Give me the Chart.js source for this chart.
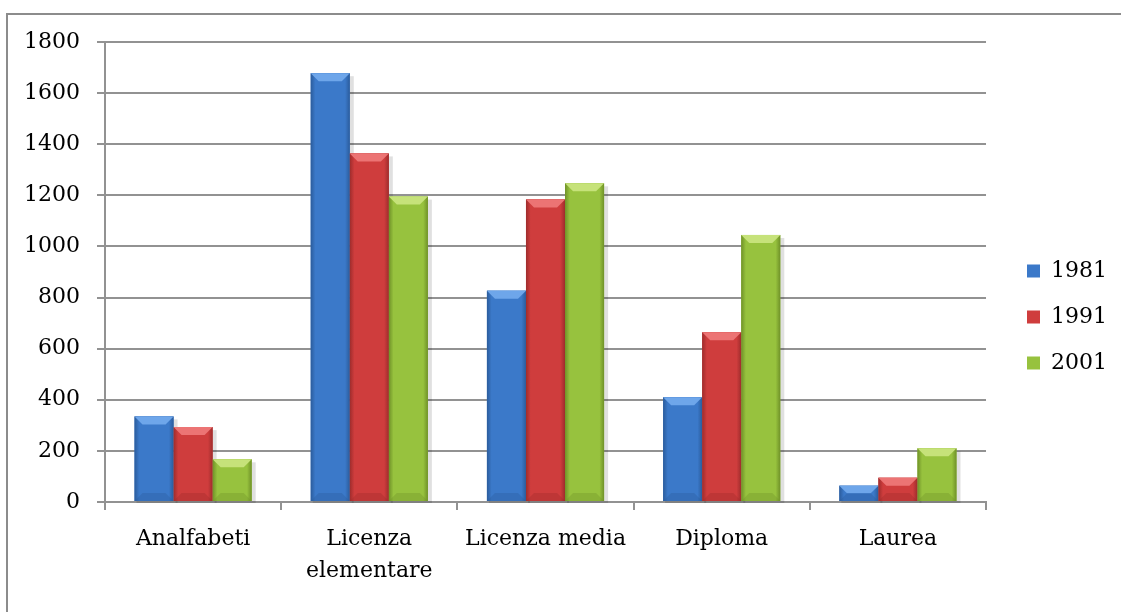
<!DOCTYPE html>
<html>
<head>
<meta charset="utf-8">
<script src="https://cdn.jsdelivr.net/npm/chart.js@4.4.1/dist/chart.umd.min.js"></script>
<style>
    html, body { margin: 0; padding: 0; background: #fff; overflow: hidden; }
    #frame {
        position: absolute; left: 6px; top: 13px;
        width: 1300px; height: 800px;
        border: 2px solid #8c8c8c;
    }
    #wrap { position: absolute; left: 0; top: 0; width: 1121px; height: 612px; }
</style>
</head>
<body>
<div id="frame"></div>
<div id="wrap"><canvas id="istruzione"></canvas></div>
<script>
const categorie = ["Analfabeti", ["Licenza", "elementare"], "Licenza media", "Diploma", "Laurea"];
const anni = ["1981", "1991", "2001"];
const valori1981 = [335, 1678, 827, 410, 64];
const valori1991 = [293, 1364, 1184, 664, 95];
const valori2001 = [167, 1195, 1247, 1045, 210];
const tickY = [0, 200, 400, 600, 800, 1000, 1200, 1400, 1600, 1800];

// colore pieno, bordo luminoso, bordo scuro
const colori = [
    { base: "#3b79c9", luce: "#6ea6ea", ombra: "#2b5c9c" },
    { base: "#cf3d3d", luce: "#ec7474", ombra: "#9e2c2c" },
    { base: "#97c23e", luce: "#c6e27a", ombra: "#6f9128" },
];

const gridColor = "#929292";
const font = { family: "'DejaVu Serif', serif", size: 22, lineHeight: 1.45 };

// smussatura 3D sopra le barre
const bevelPlugin = {
    id: "bevel",
    afterDatasetsDraw(chart) {
        const ctx = chart.ctx;
        chart.data.datasets.forEach((ds, i) => {
            const c = colori[i];
            chart.getDatasetMeta(i).data.forEach((bar) => {
                const { x, y, base, width } = bar.getProps(["x", "y", "base", "width"], true);
                const l = x - width / 2, r = x + width / 2;
                const t = y, b = base;
                const h = b - t;
                const s = Math.min(8, h / 2, width / 4);
                ctx.save();
                // faccia con sfumatura orizzontale
                const g = ctx.createLinearGradient(l, 0, r, 0);
                g.addColorStop(0, c.ombra);
                g.addColorStop(0.12, c.base);
                g.addColorStop(0.88, c.base);
                g.addColorStop(1, c.ombra);
                ctx.fillStyle = g;
                ctx.fillRect(l, t, width, h);
                // bordo superiore
                ctx.fillStyle = c.luce;
                ctx.beginPath();
                ctx.moveTo(l, t);
                ctx.lineTo(r, t);
                ctx.lineTo(r - s, t + s);
                ctx.lineTo(l + s, t + s);
                ctx.closePath();
                ctx.fill();
                // bordo inferiore
                ctx.fillStyle = c.ombra;
                ctx.globalAlpha = 0.35;
                ctx.beginPath();
                ctx.moveTo(l, b);
                ctx.lineTo(r, b);
                ctx.lineTo(r - s, b - s);
                ctx.lineTo(l + s, b - s);
                ctx.closePath();
                ctx.fill();
                ctx.restore();
            });
        });
    },
    beforeDatasetsDraw(chart) {
        // ombra leggera a destra delle barre
        const ctx = chart.ctx;
        ctx.save();
        ctx.fillStyle = "rgba(0,0,0,0.12)";
        chart.data.datasets.forEach((ds, i) => {
            chart.getDatasetMeta(i).data.forEach((bar) => {
                const { x, y, base, width } = bar.getProps(["x", "y", "base", "width"], true);
                ctx.fillRect(x - width / 2 + 2, y + 3, width + 2, base - y - 1);
            });
        });
        ctx.restore();
    },
};

const ctx = document.getElementById("istruzione").getContext("2d");
const chart = new Chart(ctx, {
    type: "bar",
    data: {
        labels: categorie,
        datasets: [
            { label: anni[0], data: valori1981, backgroundColor: colori[0].base },
            { label: anni[1], data: valori1991, backgroundColor: colori[1].base },
            { label: anni[2], data: valori2001, backgroundColor: colori[2].base },
        ],
    },
    options: {
        responsive: true,
        maintainAspectRatio: false,
        animation: false,
        datasets: {
            bar: { categoryPercentage: 0.665, barPercentage: 1, borderWidth: 0 },
        },
        layout: { padding: { top: 42, left: 23, right: 4, bottom: 20 } },
        plugins: {
            tooltip: { enabled: false },
            legend: {
                position: "right",
                labels: {
                    color: "#000",
                    font: { family: font.family, size: 22 },
                    boxWidth: 13,
                    boxHeight: 13,
                    padding: 24,
                },
            },
        },
        scales: {
            x: {
                afterFit: (scale) => { scale.height = 90; },
                grid: {
                    drawOnChartArea: false,
                    drawTicks: true,
                    tickLength: 8,
                    color: gridColor,
                    lineWidth: 2,
                },
                border: { color: gridColor, width: 2 },
                ticks: { color: "#000", font: font, padding: 13, maxRotation: 0 },
            },
            y: {
                min: 0,
                max: 1800,
                afterBuildTicks: (scale) => { scale.ticks = tickY.map((v) => ({ value: v })); },
                afterFit: (scale) => { scale.width = 82; },
                grid: { color: gridColor, lineWidth: 2, tickLength: 8 },
                border: { color: gridColor, width: 2 },
                ticks: {
                    color: "#000",
                    font: { family: font.family, size: 22 },
                    padding: 17,
                    callback: (v) => String(v),
                },
            },
            // spazio vuoto tra area del grafico e legenda
            gap: {
                position: "right",
                display: true,
                afterFit: (scale) => { scale.width = 17; },
                grid: { display: false },
                border: { display: false },
                ticks: { display: false },
            },
        },
    },
    plugins: [bevelPlugin],
});
</script>
</body>
</html>
